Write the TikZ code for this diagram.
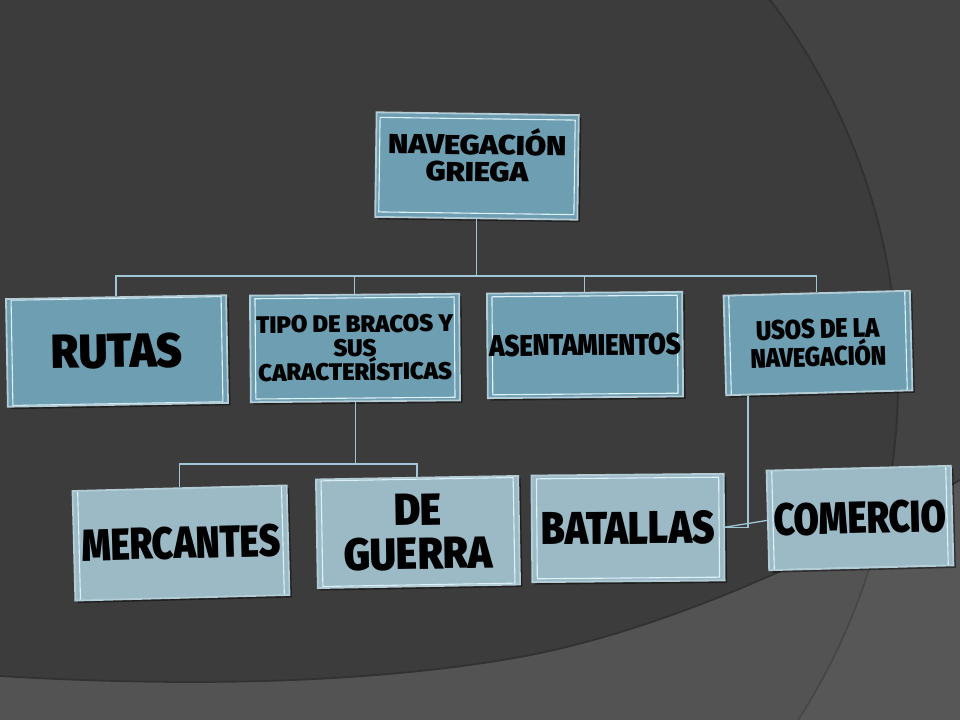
\documentclass[tikz,border=0pt]{standalone}
\usepackage{fontspec}
\usepackage{graphicx}
\newfontfamily\boxfont{Fira Sans Black}
\usetikzlibrary{shadows,calc}

\definecolor{bgdark}{HTML}{3C3C3C}
\definecolor{bgmid}{HTML}{434343}
\definecolor{bglight}{HTML}{535353}
\definecolor{bglight2}{HTML}{575757}
\definecolor{arcline}{HTML}{323232}
\definecolor{arcline2}{HTML}{464646}
\definecolor{blueA}{HTML}{6E9EB1}
\definecolor{blueB}{HTML}{9BBAC6}
\definecolor{boxedge}{HTML}{B3CCD5}
\definecolor{hilite}{HTML}{DDF2F8}
\definecolor{connc}{HTML}{9FC6D4}

% #1 size, #2 baseline skip, #3 horizontal scale, #4 lines separated by \\
\newcommand{\boxtxt}[4]{{\boxfont\fontsize{#1}{#2}\selectfont
  \lineskiplimit=-\maxdimen\relax\let\\\cr
  \scalebox{#3}[1]{\vbox{\halign{\hfil##\hfil\cr#4\cr}}}}}

\tikzset{
  bevelbox/.style={rectangle, inner sep=0pt, draw=boxedge, line width=1.8bp,
    drop shadow={shadow xshift=2.5bp, shadow yshift=-2.5bp, fill=black, opacity=0.45},
    path picture={
      \draw[hilite, line width=1.1bp]
        ([shift={(5,5)}]path picture bounding box.north west) rectangle
        ([shift={(-5,-5)}]path picture bounding box.south east);
    }},
  lvlA/.style={bevelbox, fill=blueA},
  lvlB/.style={bevelbox, fill=blueB},
  conn/.style={draw=connc, line width=1.3bp},
}

\begin{document}
\begin{tikzpicture}[x=1bp,y=-1bp]
\useasboundingbox (0,0) rectangle (960,720);
% background
\fill[bgdark] (0,0) rectangle (960,720);
\fill[bgmid, even odd rule] (0,0) rectangle (960,720) (270,380) circle (628);
\draw[arcline, line width=2bp] (270,380) circle (628);
\begin{scope}
  \clip (0,676) .. controls (200,688) and (380,682) .. (520,657)
        .. controls (650,633) and (800,570) .. (960,480) -- (960,720) -- (0,720) -- cycle;
  \fill[bglight] (0,0) rectangle (960,720);
  \fill[bglight2, even odd rule] (0,0) rectangle (960,720) (270,380) circle (628);
  \draw[arcline2, line width=1.6bp] (270,380) circle (628);
\end{scope}
\draw[arcline, line width=1.8bp] (0,676) .. controls (200,688) and (380,682) .. (520,657)
        .. controls (650,633) and (800,570) .. (960,480);

% nodes
\node[lvlA, minimum width=203, minimum height=105, rotate=-0.8] (root) at (477,166)
  {\raisebox{23bp}{\boxtxt{27.5bp}{27bp}{1.12}{NAVEGACIÓN\\GRIEGA}}};

\node[lvlA, minimum width=221, minimum height=108, rotate=1] (rutas) at (117,351)
  {\boxtxt{48bp}{48bp}{0.925}{RUTAS}};
\node[lvlA, minimum width=210, minimum height=107, rotate=0.5] (tipo) at (355,348)
  {\boxtxt{24bp}{24bp}{0.99}{TIPO DE BRACOS Y\\SUS\\CARACTERÍSTICAS}};
\node[lvlA, minimum width=196, minimum height=105, rotate=0.5] (asent) at (585,345)
  {\boxtxt{30bp}{30bp}{0.85}{ASENTAMIENTOS}};
\node[lvlA, minimum width=187, minimum height=100, rotate=1.5] (usos) at (818,343)
  {\boxtxt{27bp}{28bp}{0.87}{USOS DE LA\\NAVEGACIÓN}};

\node[lvlB, minimum width=215, minimum height=110, rotate=1.5] (merc) at (181,543)
  {\boxtxt{45bp}{45bp}{0.816}{MERCANTES}};
\node[lvlB, minimum width=203, minimum height=109, rotate=1] (guerra) at (418,532)
  {\boxtxt{45bp}{44bp}{0.90}{DE\\GUERRA}};
\node[lvlB, minimum width=193, minimum height=107, rotate=0.5] (batallas) at (628,528)
  {\boxtxt{46bp}{46bp}{0.834}{BATALLAS}};
\node[lvlB, minimum width=185, minimum height=100, rotate=1.5] (comercio) at (860,518)
  {\boxtxt{45bp}{45bp}{0.81}{COMERCIO}};

% connectors
\coordinate (bus) at (480,276);
\draw[conn] (root.south) -- (root.south |- bus);
\draw[conn] (rutas.north) |- (bus) -| (usos.north);
\draw[conn] (tipo.north) -- (tipo.north |- bus);
\draw[conn] (asent.north) -- (asent.north |- bus);

\coordinate (bus2) at (357,464);
\draw[conn] (tipo.south) -- (tipo.south |- bus2);
\draw[conn] (merc.north) |- (bus2) -| (guerra.north);

\coordinate (hang) at ($(usos.south west)!0.12!(usos.south east)$);
\draw[conn] (hang) |- (batallas.east);
\draw[conn] (batallas.east) -- (comercio.west);
\end{tikzpicture}
\end{document}
